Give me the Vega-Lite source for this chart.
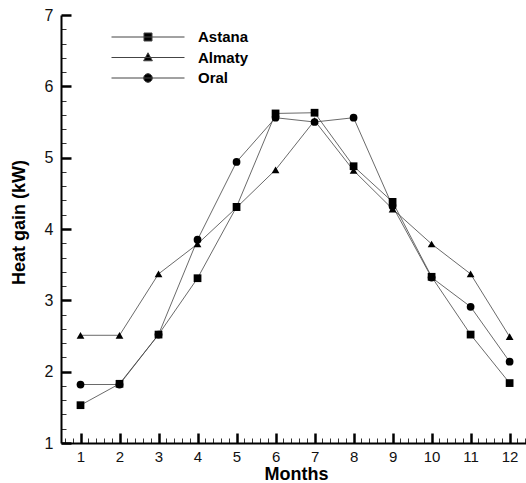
{
  "$schema": "https://vega.github.io/schema/vega-lite/v6.json",
  "width": 465,
  "height": 428,
  "autosize": {"type": "none"},
  "padding": {"left": 61, "top": 15, "right": 0, "bottom": 40},
  "background": "white",
  "config": {
    "view": {"stroke": null},
    "font": "Liberation Sans"
  },
  "data": {
    "values": [
      {"month": 1, "city": "Astana", "gain": 1.53},
      {"month": 2, "city": "Astana", "gain": 1.83},
      {"month": 3, "city": "Astana", "gain": 2.52},
      {"month": 4, "city": "Astana", "gain": 3.31},
      {"month": 5, "city": "Astana", "gain": 4.31},
      {"month": 6, "city": "Astana", "gain": 5.62},
      {"month": 7, "city": "Astana", "gain": 5.63},
      {"month": 8, "city": "Astana", "gain": 4.88},
      {"month": 9, "city": "Astana", "gain": 4.38},
      {"month": 10, "city": "Astana", "gain": 3.33},
      {"month": 11, "city": "Astana", "gain": 2.52},
      {"month": 12, "city": "Astana", "gain": 1.84},
      {"month": 1, "city": "Almaty", "gain": 2.51},
      {"month": 2, "city": "Almaty", "gain": 2.51},
      {"month": 3, "city": "Almaty", "gain": 3.37},
      {"month": 4, "city": "Almaty", "gain": 3.79},
      {"month": 5, "city": "Almaty", "gain": 4.3},
      {"month": 6, "city": "Almaty", "gain": 4.83},
      {"month": 7, "city": "Almaty", "gain": 5.52},
      {"month": 8, "city": "Almaty", "gain": 4.82},
      {"month": 9, "city": "Almaty", "gain": 4.28},
      {"month": 10, "city": "Almaty", "gain": 3.79},
      {"month": 11, "city": "Almaty", "gain": 3.37},
      {"month": 12, "city": "Almaty", "gain": 2.49},
      {"month": 1, "city": "Oral", "gain": 1.82},
      {"month": 2, "city": "Oral", "gain": 1.82},
      {"month": 3, "city": "Oral", "gain": 2.52},
      {"month": 4, "city": "Oral", "gain": 3.85},
      {"month": 5, "city": "Oral", "gain": 4.94},
      {"month": 6, "city": "Oral", "gain": 5.56},
      {"month": 7, "city": "Oral", "gain": 5.5},
      {"month": 8, "city": "Oral", "gain": 5.56},
      {"month": 9, "city": "Oral", "gain": 4.32},
      {"month": 10, "city": "Oral", "gain": 3.32},
      {"month": 11, "city": "Oral", "gain": 2.91},
      {"month": 12, "city": "Oral", "gain": 2.14}
    ]
  },
  "resolve": {"axis": {"x": "independent", "y": "independent"}, "scale": {"shape": "independent"}},
  "layer": [
    {
      "mark": {"type": "line", "stroke": "#444", "strokeWidth": 0.8},
      "encoding": {
        "x": {
          "field": "month", "type": "quantitative",
          "scale": {"domain": [0.5, 12.42], "nice": false, "zero": false},
          "axis": {
            "orient": "bottom",
            "values": [1,2,3,4,5,6,7,8,9,10,11,12],
            "format": "d",
            "ticks": false,
            "grid": true, "gridColor": "black", "gridWidth": 2.5, "gridDash": [10, 418], "gridDashOffset": 10, "gridOpacity": 1,
            "domainColor": "black", "domainWidth": 2,
            "labelFont": "Liberation Sans", "labelFontSize": 15, "labelColor": "#111",
            "labelPadding": 6,
            "title": "Months", "titleFont": "Liberation Sans", "titleFontSize": 18, "titleFontWeight": "bold",
            "titleColor": "black", "titleX": 235, "titleY": 36, "titleBaseline": "alphabetic", "titleAlign": "center"
          }
        },
        "y": {
          "field": "gain", "type": "quantitative",
          "scale": {"domain": [1, 7], "nice": false, "zero": false},
          "axis": {
            "orient": "left",
            "values": [1,2,3,4,5,6,7],
            "format": "d",
            "ticks": false,
            "grid": true, "gridColor": "black", "gridWidth": 2.5, "gridDash": [10, 2000], "gridOpacity": 1,
            "domainColor": "black", "domainWidth": 2,
            "labelFont": "Liberation Sans", "labelFontSize": 16, "labelColor": "#111",
            "labelPadding": 8,
            "title": "Heat gain (kW)", "titleFont": "Liberation Sans", "titleFontSize": 18, "titleFontWeight": "bold",
            "titleColor": "black", "titleX": -42, "titleY": 207, "titleAlign": "center", "titleBaseline": "middle"
          }
        },
        "detail": {"field": "city", "type": "nominal"}
      }
    },
    {
      "mark": {"type": "point", "filled": true, "color": "black", "opacity": 1, "size": 60},
      "encoding": {
        "x": {
          "field": "month", "type": "quantitative",
          "axis": {
            "orient": "bottom",
            "values": [0.6,0.8,1.2,1.4,1.6,1.8,2.2,2.4,2.6,2.8,3.2,3.4,3.6,3.8,4.2,4.4,4.6,4.8,5.2,5.4,5.6,5.8,6.2,6.4,6.6,6.8,7.2,7.4,7.6,7.8,8.2,8.4,8.6,8.8,9.2,9.4,9.6,9.8,10.2,10.4,10.6,10.8,11.2,11.4,11.6,11.8,12.2,12.4],
            "ticks": false, "domain": false, "labels": false, "title": null,
            "grid": true, "gridColor": "#333", "gridWidth": 1, "gridDash": [5, 423], "gridDashOffset": 5, "gridOpacity": 1
          }
        },
        "y": {
          "field": "gain", "type": "quantitative",
          "axis": {
            "orient": "left",
            "values": [1.2,1.4,1.6,1.8,2.2,2.4,2.6,2.8,3.2,3.4,3.6,3.8,4.2,4.4,4.6,4.8,5.2,5.4,5.6,5.8,6.2,6.4,6.6,6.8],
            "ticks": false, "domain": false, "labels": false, "title": null,
            "grid": true, "gridColor": "#333", "gridWidth": 1, "gridDash": [5, 2000], "gridOpacity": 1
          }
        },
        "shape": {
          "field": "city", "type": "nominal",
          "scale": {"domain": ["Astana", "Almaty", "Oral"], "range": ["square", "triangle-up", "circle"]},
          "legend": null
        }
      }
    },
    {
      "data": {"values": []},
      "mark": {"type": "point", "filled": false, "color": "#444", "fill": "black", "strokeWidth": 1, "opacity": 1},
      "encoding": {
        "shape": {
          "field": "city", "type": "nominal",
          "scale": {
            "domain": ["Astana", "Almaty", "Oral"],
            "range": [
              "M-1,0H1M-0.11,-0.11H0.11V0.11H-0.11Z",
              "M-1,0H1M0,-0.13L0.12,0.09H-0.12Z",
              "M-1,0H1M0.12,0L0.104,0.06L0.06,0.104L0,0.12L-0.06,0.104L-0.104,0.06L-0.12,0L-0.104,-0.06L-0.06,-0.104L0,-0.12L0.06,-0.104L0.104,-0.06Z"
            ]
          },
          "legend": {
            "orient": "none", "legendX": 50, "legendY": 14,
            "title": null,
            "symbolSize": 5329, "clipHeight": 16, "rowPadding": 4.5,
            "symbolStrokeWidth": 1,
            "labelFont": "Liberation Sans", "labelFontSize": 15, "labelFontWeight": "bold", "labelColor": "black",
            "labelOffset": 13
          }
        }
      }
    }
  ]
}
